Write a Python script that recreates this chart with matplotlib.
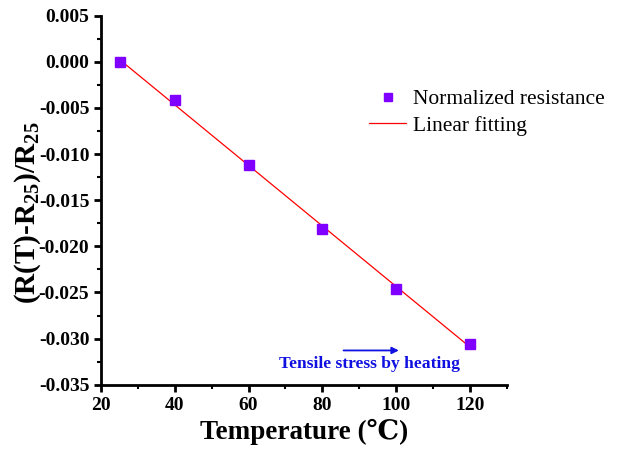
import numpy as np
import matplotlib.pyplot as plt
from matplotlib.ticker import MultipleLocator

# data
temperature = [25, 40, 60, 80, 100, 120]
norm_res = [0.0000, -0.0042, -0.0112, -0.0181, -0.0246, -0.0306]

# linear fit of the measured points
coef = np.polyfit(temperature, norm_res, 1)
x_fit = np.array([temperature[0], temperature[-1]])
y_fit = np.polyval(coef, x_fit)

plt.rcParams['font.family'] = ['Liberation Serif', 'DejaVu Serif', 'DejaVu Sans']
plt.rcParams['mathtext.fontset'] = 'custom'
plt.rcParams['mathtext.rm'] = 'Liberation Serif'
plt.rcParams['mathtext.bf'] = 'Liberation Serif:bold'

fig = plt.figure(figsize=(6.24, 4.57), dpi=100)
ax = fig.add_axes([0.162, 0.158, 0.650, 0.808])

ax.plot(temperature, norm_res, 's', color='#7f00ff', markersize=6.5,
        label='Normalized resistance', zorder=3)
ax.plot(x_fit, y_fit, '-', color='red', linewidth=0.9, label='Linear fitting')

ax.set_xlim(20, 130)
ax.set_ylim(-0.035, 0.005)
ax.xaxis.set_major_locator(MultipleLocator(20))
ax.xaxis.set_minor_locator(MultipleLocator(10))
ax.yaxis.set_major_locator(MultipleLocator(0.005))
ax.yaxis.set_minor_locator(MultipleLocator(0.0025))
ax.yaxis.set_major_formatter(plt.FuncFormatter(lambda v, p: '%.3f' % v))

for s in ['top', 'right']:
    ax.spines[s].set_visible(False)
for s in ['left', 'bottom']:
    ax.spines[s].set_linewidth(2)
ax.tick_params(which='major', direction='out', length=5, width=2, labelsize=14)
ax.tick_params(which='minor', direction='out', length=3, width=1.5)
for lab in ax.get_xticklabels() + ax.get_yticklabels():
    lab.set_fontweight('bold')

ax.set_xlabel('Temperature (℃)', fontsize=19.5, fontweight='bold', labelpad=4)
ax.set_ylabel(r'(R(T)-R$_\mathbf{25}$)/R$_\mathbf{25}$', fontsize=21,
              fontweight='bold')
ax.yaxis.set_label_coords(-0.143, 0.465)

ax.annotate('', xy=(101.5, -0.03128), xytext=(85, -0.03128),
            arrowprops=dict(arrowstyle='-|>', color='#1010e0', lw=1.3,
                            mutation_scale=10))
ax.text(68.3, -0.0327, 'Tensile stress by heating', color='#1010e0',
        fontsize=12.6, fontweight='bold', va='center', ha='left')

ax.legend(loc='center left', bbox_to_anchor=(0.66, 0.738), frameon=False,
          fontsize=15.5, handlelength=1.75, handletextpad=0.3,
          labelspacing=0.3, markerscale=0.85, borderaxespad=0, borderpad=0)

fig.savefig('out.png', dpi=100)
